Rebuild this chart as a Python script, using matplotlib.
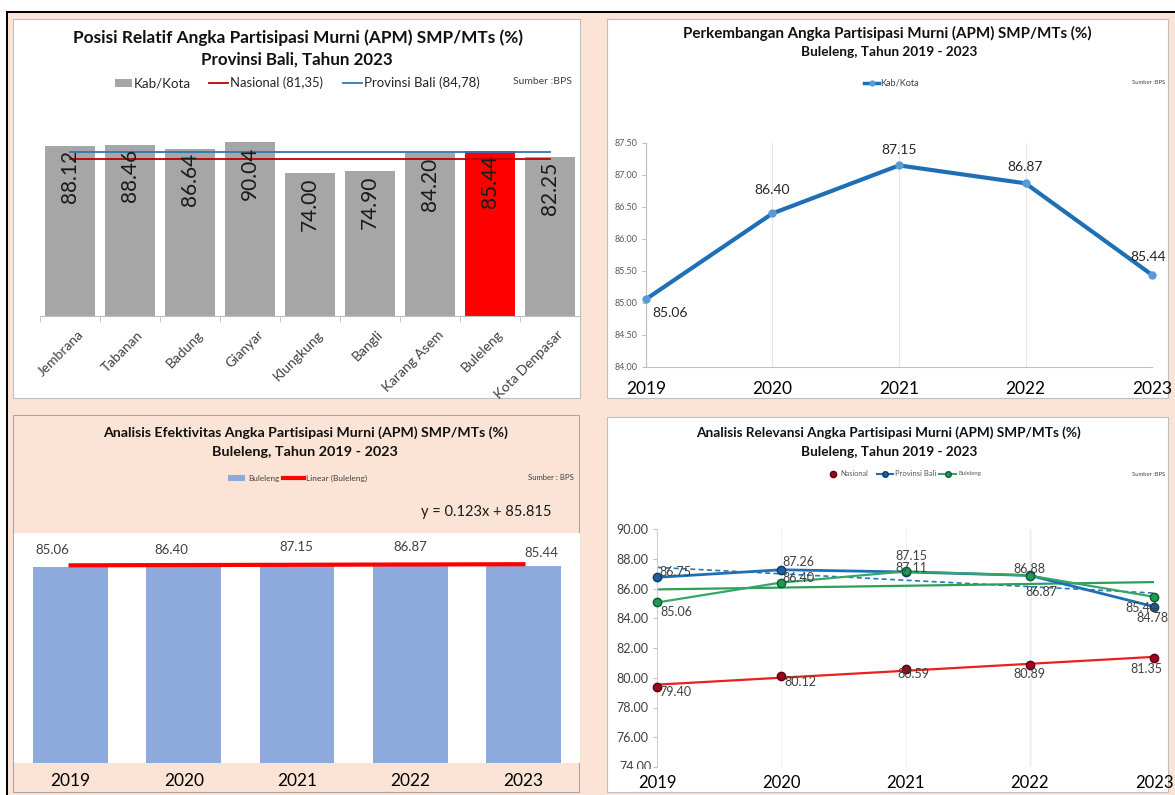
import numpy as np
import matplotlib
matplotlib.use('Agg')
import matplotlib.pyplot as plt
from matplotlib.patches import Rectangle
from matplotlib.lines import Line2D
from matplotlib.transforms import Bbox, TransformedBbox, ScaledTranslation

plt.rcParams['font.family'] = ['Lato', 'DejaVu Sans']

# ---------------- data ----------------
kab_kota = ['Jembrana', 'Tabanan', 'Badung', 'Gianyar', 'Klungkung', 'Bangli',
            'Karang Asem', 'Buleleng', 'Kota Denpasar']
apm_kab_2023 = [88.12, 88.46, 86.64, 90.04, 74.00, 74.90, 84.20, 85.44, 82.25]
apm_nasional_2023 = 81.35
apm_bali_2023 = 84.78
highlight = 'Buleleng'

tahun = ['2019', '2020', '2021', '2022', '2023']
apm_buleleng = [85.06, 86.40, 87.15, 86.87, 85.44]
apm_nasional = [79.40, 80.12, 80.59, 80.89, 81.35]
apm_bali = [86.75, 87.26, 87.11, 86.88, 84.78]

title1 = ['Posisi Relatif Angka Partisipasi Murni (APM) SMP/MTs (%)', 'Provinsi Bali, Tahun 2023']
title2 = ['Perkembangan Angka Partisipasi Murni (APM) SMP/MTs (%)', 'Buleleng, Tahun 2019 - 2023']
title3 = ['Analisis Efektivitas Angka Partisipasi Murni (APM) SMP/MTs (%)', 'Buleleng, Tahun 2019 - 2023']
title4 = ['Analisis Relevansi Angka Partisipasi Murni (APM) SMP/MTs (%)', 'Buleleng, Tahun 2019 - 2023']

# ---------------- layout helpers ----------------
W, H = 1175, 795
PEACH = '#FBE4D6'
fig = plt.figure(figsize=(W / 100, H / 100), dpi=100, facecolor=PEACH)
renderer = fig.canvas.get_renderer()


def fx(x):
    return x / W


def fy(y):
    return 1 - y / H


def rect(x0, y0, x1, y1, fc, ec='none', lw=0, z=-5):
    fig.add_artist(Rectangle((fx(x0), fy(y1)), (x1 - x0) / W, (y1 - y0) / H,
                             transform=fig.transFigure, facecolor=fc,
                             edgecolor=ec, linewidth=lw, zorder=z))


def add_axes(x0, y0, x1, y1):
    return fig.add_axes([fx(x0), fy(y1), (x1 - x0) / W, (y1 - y0) / H])


def fit_text(s, x0, x1, y, size=10, color='#262626', **kw):
    t = fig.text(fx((x0 + x1) / 2), fy(y), s, ha='center', va='center',
                 fontsize=size, color=color, **kw)
    w = t.get_window_extent(renderer).width
    t.set_fontsize(size * (x1 - x0) / w)
    return t


def fline(x0, x1, y, **kw):
    fig.add_artist(Line2D([fx(x0), fx(x1)], [fy(y), fy(y)],
                          transform=fig.transFigure, **kw))


def fmarker(x, y, **kw):
    fig.add_artist(Line2D([fx(x)], [fy(y)], transform=fig.transFigure,
                          ls='none', **kw))


# ---------------- frame ----------------
rect(0, 0, W, 10.5, 'white', z=-8)
rect(0, 0, 5.5, H, 'white', z=-8)
rect(5.5, 10.5, W, 13, 'black', z=-7)
rect(5.5, 10.5, 8, H, 'black', z=-7)

rect(13, 19, 580, 398, 'white', ec='#BFBFBF', lw=0.8)
rect(607, 19, 1168, 398, 'white', ec='#BFBFBF', lw=0.8)
rect(13, 415, 579, 792, PEACH, ec='#A6A6A6', lw=0.8)
rect(607, 417, 1168, 792, 'white', ec='#BFBFBF', lw=0.8)

GRAY_BAR = '#A6A6A6'
RED_NAS = '#C00000'
BLUE_BALI = '#2E75B6'

# ================= Panel 1: bar chart kab/kota =================
fit_text(title1[0], 73, 523, 38, weight='bold', color='#111111')
fit_text(title1[1], 201, 393, 60, weight='bold', color='#111111')
rect(115, 79, 132, 87, GRAY_BAR, z=2)
fit_text('Kab/Kota', 134, 191, 83)
fline(209, 228, 83, color=RED_NAS, lw=1.3)
fit_text('Nasional (%s)' % f'{apm_nasional_2023:.2f}'.replace('.', ','), 230, 323, 83)
fline(343, 362, 83, color=BLUE_BALI, lw=1.3)
fit_text('Provinsi Bali (%s)' % f'{apm_bali_2023:.2f}'.replace('.', ','), 364, 480, 83)
fit_text('Sumber :BPS', 513, 572, 82, color='#404040')

ax1 = add_axes(40, 123, 580, 316)
ax1.set_facecolor('none')
x1 = np.arange(len(kab_kota))
colors1 = ['#FF0000' if k == highlight else GRAY_BAR for k in kab_kota]
ax1.bar(x1, apm_kab_2023, width=0.82, color=colors1, zorder=2)
ax1.plot(x1, [apm_bali_2023] * len(x1), color=BLUE_BALI, lw=1.3, zorder=3)
ax1.plot(x1, [apm_nasional_2023] * len(x1), color=RED_NAS, lw=1.3, zorder=3)
for xi, v in zip(x1, apm_kab_2023):
    ax1.annotate(f'{v:.2f}', (xi, v), xytext=(0, -4), textcoords='offset pixels',
                 rotation=90, ha='center', va='top', fontsize=15,
                 color='#1A1A1A', zorder=4)
ax1.set_xlim(-0.5, len(kab_kota) - 0.5)
ax1.set_ylim(0, 100)
for s in ['top', 'right', 'left']:
    ax1.spines[s].set_visible(False)
ax1.spines['bottom'].set_color('#BFBFBF')
ax1.set_yticks([])
ax1.set_xticks(x1)
ax1.set_xticklabels(kab_kota, rotation=45, ha='right', rotation_mode='anchor',
                    fontsize=10, color='#404040')
ax1.tick_params(axis='x', which='major', length=0, pad=9)
ax1.set_xticks(np.arange(-0.5, len(kab_kota), 1), minor=True)
ax1.tick_params(axis='x', which='minor', length=4, color='#BFBFBF')
shift = ScaledTranslation(7 / 100, 0, fig.dpi_scale_trans)
for lbl in ax1.get_xticklabels():
    lbl.set_transform(lbl.get_transform() + shift)

# ================= Panel 2: line chart Buleleng =================
fit_text(title2[0], 684, 1091, 33, weight='bold', color='#111111')
fit_text(title2[1], 801, 977, 52, weight='bold', color='#111111')
LINE_BLUE = '#1F6FB7'
fline(864, 879, 83, color=LINE_BLUE, lw=2.5)
fmarker(871.5, 83, marker='o', ms=3.5, color='#5B9BD5')
fit_text('Kab/Kota', 880, 919, 83, color='#404040')
fit_text('Sumber :BPS', 1132, 1165, 83, color='#404040')

ax2 = add_axes(646, 143, 1152, 367)
ax2.set_facecolor('none')
xs = np.arange(len(tahun))
ax2.plot(xs, apm_buleleng, color=LINE_BLUE, lw=3, marker='o', ms=5,
         mfc='#5B9BD5', mec='#5B9BD5', zorder=3, clip_on=False)
ax2.set_xlim(0, len(tahun) - 1)
ax2.set_ylim(84, 87.5)
ax2.set_yticks(np.arange(84, 87.51, 0.5))
ax2.set_yticklabels([f'{v:.2f}' for v in np.arange(84, 87.51, 0.5)],
                    fontsize=6.5, color='#595959')
ax2.set_xticks(xs)
ax2.set_xticklabels(tahun, fontsize=12.5, color='black')
ax2.tick_params(axis='x', length=0, pad=10)
ax2.tick_params(axis='y', length=3, color='#BFBFBF', pad=3)
ax2.grid(axis='x', color='#E6E6E6', lw=0.8)
for s in ['top', 'right']:
    ax2.spines[s].set_visible(False)
ax2.spines['left'].set_color('#BFBFBF')
ax2.spines['bottom'].set_color('#BFBFBF')
off2 = [(24, -14), (0, 23), (0, 15), (0, 16), (-4, 18)]
for xi, v, o in zip(xs, apm_buleleng, off2):
    ax2.annotate(f'{v:.2f}', (xi, v), xytext=o, textcoords='offset pixels',
                 ha='center', va='center', fontsize=10, color='#262626',
                 annotation_clip=False)

# ================= Panel 3: efektivitas bar + trend =================
fit_text(title3[0], 103, 508, 433, weight='bold', color='#111111')
fit_text(title3[1], 212, 398, 452, weight='bold', color='#111111')
BAR_BLUE = '#8EA9DB'
rect(228, 475, 245, 481, BAR_BLUE, z=2)
fit_text('Buleleng', 248, 279, 478, color='#404040')
fline(283, 304, 478, color='#FF0000', lw=3)
fit_text('Linear (Buleleng)', 306, 367, 478, color='#404040')
fit_text('Sumber : BPS', 528, 574, 478, color='#404040')

xn = np.arange(1, len(tahun) + 1)
slope, intercept = np.polyfit(xn, apm_buleleng, 1)
trend3 = intercept + slope * xn
fit_text(f'y = {slope:.3f}x + {intercept:.3f}', 421, 551, 512, color='#1A1A1A')

ax3 = add_axes(14, 533, 580, 763)
ax3.set_facecolor('white')
ax3.bar(xs, apm_buleleng, width=0.66, color=BAR_BLUE, zorder=2)
ax3.plot(xs, trend3, color='#FF0000', lw=3, zorder=3)
ax3.set_xlim(-0.5, len(tahun) - 0.5)
ax3.set_ylim(0, 100)
for s in ax3.spines.values():
    s.set_visible(False)
ax3.set_yticks([])
ax3.set_xticks(xs)
ax3.set_xticklabels(tahun, fontsize=12.5, color='black')
ax3.tick_params(axis='x', length=0, pad=7)
off3 = [(-18, 17), (-12, 14), (-1, 16), (0, 16), (18, 13)]
for xi, v, o in zip(xs, apm_buleleng, off3):
    ax3.annotate(f'{v:.2f}', (xi, v), xytext=o, textcoords='offset pixels',
                 ha='center', va='center', fontsize=9.5, color='#404040',
                 annotation_clip=False)

# ================= Panel 4: relevansi =================
fit_text(title4[0], 697, 1080, 433, weight='bold', color='#111111')
fit_text(title4[1], 801, 978, 452, weight='bold', color='#111111')
NAS_MK = '#A0001E'
BALI_LN = '#1F6FB5'
BULE_LN = '#35A765'
fmarker(833, 474, marker='o', ms=4.5, mfc=NAS_MK, mec='#5A0010')
fit_text('Nasional', 840, 868, 474, color='#595959')
fline(877, 893, 474, color=BALI_LN, lw=1.5)
fmarker(885, 474, marker='o', ms=4, mfc='#1F5F9F', mec='#0F3A66')
fit_text('Provinsi Bali', 895, 936, 474, color='#595959')
fline(939, 956, 474, color=BULE_LN, lw=1.5)
fmarker(947.5, 474, marker='o', ms=4, mfc='#1E9B50', mec='#0E5A2E')
fit_text('Buleleng', 958, 981, 474, color='#595959')
fit_text('Sumber :BPS', 1132, 1165, 474, color='#404040')

ax4 = add_axes(657, 529, 1154, 767)
ax4.set_facecolor('none')


def linfit(vals):
    p = np.polyfit(xs, vals, 1)
    return np.polyval(p, xs)


ax4.plot(xs, linfit(apm_nasional), color='#E8201F', lw=1.6, zorder=2)
ax4.plot(xs, linfit(apm_bali), color='#2E75B6', lw=1.2, ls=(0, (3, 2)), zorder=2)
ax4.plot(xs, linfit(apm_buleleng), color='#2E9E5B', lw=1.6, zorder=2)
ax4.plot(xs, apm_bali, color=BALI_LN, lw=2, marker='o', ms=6,
         mfc='#1F5F9F', mec='#0F3A66', zorder=3, clip_on=False)
ax4.plot(xs, apm_buleleng, color=BULE_LN, lw=1.6, marker='o', ms=6,
         mfc='#1E9B50', mec='#0E5A2E', zorder=4, clip_on=False)
ax4.plot(xs, apm_nasional, ls='none', marker='o', ms=6, mfc=NAS_MK,
         mec='#5A0010', zorder=5, clip_on=False)
ax4.set_xlim(0, len(tahun) - 1)
ax4.set_ylim(74, 90)
yt4 = np.arange(74, 90.1, 2)
ax4.set_yticks(yt4)
ax4.set_yticklabels([''] + [f'{v:.2f}' for v in yt4[1:]], fontsize=9, color='#404040')
ax4.set_xticks(xs)
ax4.set_xticklabels(tahun, fontsize=12, color='black')
ax4.tick_params(axis='x', length=0, pad=6)
ax4.tick_params(axis='y', length=3, color='#BFBFBF', pad=3)
ax4.grid(axis='x', color='#F0F0F0', lw=0.8)
ax4.axvline(tahun.index('2022'), color='#C9DAEE', lw=1, zorder=1)
for s in ['top', 'right', 'bottom']:
    ax4.spines[s].set_visible(False)
ax4.spines['left'].set_color('#D0D0D0')
# lowest tick label, half hidden as in the source
t74 = ax4.annotate(f'{yt4[0]:.2f}', xy=(0, yt4[0]), xycoords=('axes fraction', 'data'),
                   xytext=(-6, 0), textcoords='offset pixels', ha='right', va='center',
                   fontsize=9, color='#404040', annotation_clip=False)
t74.set_clip_on(True)
t74.set_clip_box(TransformedBbox(Bbox([[0, fy(769)], [1, 1]]), fig.transFigure))

off_nas = [(18, -5), (19, -6), (8, -5), (0, -9), (-8, -11)]
off_bali = [(18, 5), (17, 8), (6, 4), (0, 6), (-2, -11)]
off_bule = [(19, -10), (17, 5), (6, 15), (12, -16), (-13, -11)]
for vals, offs in [(apm_nasional, off_nas), (apm_bali, off_bali), (apm_buleleng, off_bule)]:
    for xi, v, o in zip(xs, vals, offs):
        ax4.annotate(f'{v:.2f}', (xi, v), xytext=o, textcoords='offset pixels',
                     ha='center', va='center', fontsize=9, color='#404040',
                     annotation_clip=False, zorder=6)

fig.savefig('out.png', dpi=100, facecolor=fig.get_facecolor())
